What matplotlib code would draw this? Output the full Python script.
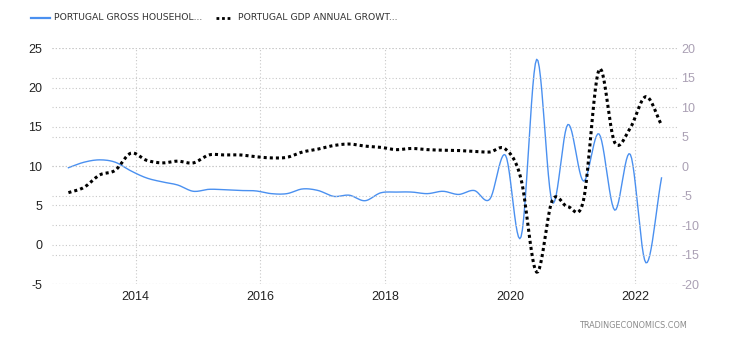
import numpy as np
import matplotlib
matplotlib.use('Agg')
import matplotlib.pyplot as plt

plt.rcParams['font.family'] = ['Liberation Sans', 'DejaVu Sans']
plt.rcParams['axes.unicode_minus'] = False

# quarterly observations, Q4 2012 .. Q2 2022
quarters = 2012.925 + 0.25 * np.arange(39)

household_saving = [9.8, 10.5, 10.8, 10.5, 9.4, 8.5, 8.0, 7.6, 6.8, 7.05,
                    7.0, 6.9, 6.85, 6.5, 6.5, 7.1, 6.9, 6.15, 6.3, 5.6,
                    6.6, 6.7, 6.7, 6.5, 6.8, 6.4, 6.9, 5.8, 11.4, 1.0,
                    23.6, 5.4, 15.3, 8.1, 14.1, 4.4, 11.5, -2.3, 8.5]

gdp_growth = [-4.5, -3.6, -1.5, -0.7, 2.2, 1.0, 0.55, 0.85, 0.55, 1.9,
              1.9, 1.9, 1.6, 1.4, 1.5, 2.4, 2.9, 3.5, 3.75, 3.4,
              3.2, 2.8, 3.0, 2.8, 2.7, 2.65, 2.5, 2.4, 2.9, -2.2,
              -18.0, -5.8, -6.9, -5.8, 16.4, 4.0, 6.5, 11.8, 7.0]

left_ticks = [-5, 0, 5, 10, 15, 20, 25]
right_ticks = [-20, -15, -10, -5, 0, 5, 10, 15, 20]
year_ticks = [2014, 2016, 2018, 2020, 2022]


def smooth(x, y, n=12):
    # Catmull-Rom spline through every point
    x = np.asarray(x, float)
    y = np.asarray(y, float)
    px = np.concatenate([[2 * x[0] - x[1]], x, [2 * x[-1] - x[-2]]])
    py = np.concatenate([[2 * y[0] - y[1]], y, [2 * y[-1] - y[-2]]])
    xs, ys = [], []
    t = np.linspace(0, 1, n, endpoint=False)
    for i in range(1, len(px) - 2):
        for p, out in ((px, xs), (py, ys)):
            p0, p1, p2, p3 = p[i - 1], p[i], p[i + 1], p[i + 2]
            out.append(0.5 * (2 * p1 + (-p0 + p2) * t
                              + (2 * p0 - 5 * p1 + 4 * p2 - p3) * t ** 2
                              + (-p0 + 3 * p1 - 3 * p2 + p3) * t ** 3))
    xs.append([x[-1]])
    ys.append([y[-1]])
    return np.concatenate(xs), np.concatenate(ys)


fig = plt.figure(figsize=(7.3, 3.4), dpi=100)
ax = fig.add_axes([52 / 730, 0.1647, 625 / 730, 0.6933])
ax2 = ax.twinx()

grid_kw = dict(color='#c8c8c8', linestyle=(0, (1, 2)), linewidth=0.8)
dotted = (0, (1, 1))

xb, yb = smooth(quarters, household_saving)
ax.plot(xb, yb, color='#4a90f0', linewidth=1.0, zorder=3)
xg, yg = smooth(quarters, gdp_growth)
ax2.plot(xg, yg, color='black', linewidth=2.2, linestyle=dotted, zorder=3)

ax.set_xlim(2012.662, 2022.673)
ax.set_ylim(-5, 25)
ax2.set_ylim(-20, 20)
ax.set_yticks(left_ticks)
ax2.set_yticks(right_ticks)
ax.set_xticks(year_ticks)
ax.set_xticklabels([str(y) for y in year_ticks])

for a in (ax, ax2):
    for s in a.spines.values():
        s.set_visible(False)
ax.grid(True, axis='both', **grid_kw)
ax2.grid(True, axis='y', **grid_kw)
ax.set_axisbelow(True)

ax.tick_params(axis='both', length=0, labelsize=9, colors='#222222', pad=5)
ax.tick_params(axis='y', pad=7)
ax2.tick_params(axis='y', length=0, labelsize=9, colors='#aaa0b4', pad=3)

# legend row
legend_font = dict(fontsize=6.7, color='#333333', va='center', family='DejaVu Sans')
fig.add_artist(plt.Line2D([31 / 730, 50 / 730], [1 - 18 / 340] * 2,
                          color='#4a90f0', linewidth=1.6))
fig.text(54 / 730, 1 - 18 / 340, 'PORTUGAL GROSS HOUSEHOL...', **legend_font)
fig.add_artist(plt.Line2D([216 / 730, 232 / 730], [1 - 18 / 340] * 2,
                          color='black', linewidth=2.0, linestyle=dotted))
fig.text(238 / 730, 1 - 18 / 340, 'PORTUGAL GDP ANNUAL GROWT...', **legend_font)

fig.text(688 / 730, 1 - 325 / 340, 'TRADINGECONOMICS.COM', fontsize=5.9,
         color='#8a8a8a', ha='right', va='center', family='DejaVu Sans')

fig.savefig('out.png', dpi=100)
